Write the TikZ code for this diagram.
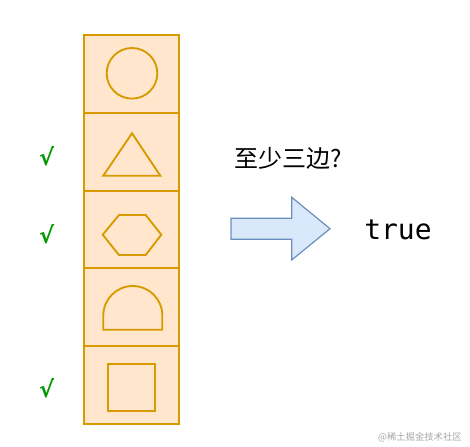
\documentclass[tikz,border=0pt]{standalone}
\usepackage{fontspec}
\newfontfamily\cjk{Noto Sans CJK SC}
\newfontfamily\tickfont{DejaVu Sans}
\setmonofont{DejaVu Sans Mono}
\usetikzlibrary{positioning}

\definecolor{boxfill}{HTML}{FFE6CC}
\definecolor{boxline}{HTML}{D79B00}
\definecolor{arrowfill}{HTML}{DAE8FC}
\definecolor{arrowline}{HTML}{6C8EBF}
\definecolor{tickgreen}{HTML}{009900}

\tikzset{
   cell/.style={draw=boxline,fill=boxfill,line width=1.5pt},
   shapeline/.style={draw=boxline,line width=1.4pt,line join=miter},
   tick/.style={text=tickgreen,font=\tickfont\bfseries\fontsize{17}{17}\selectfont,inner sep=0pt}
}

\begin{document}
\begin{tikzpicture}[x=0.75pt,y=-0.75pt]

   \useasboundingbox (0,0) rectangle (470,446);

   % column of cells
   \foreach \i in {0,1,...,4} {
      \draw[cell] (84,34.7+77.9*\i) rectangle ++(95,77.9);
   }

   % shapes in the cells
   \draw[shapeline] (132,73.3) circle (25.3);
   \draw[shapeline] (132,133.3) -- (160.3,175.7) -- (103.3,175.7) -- cycle;
   \draw[shapeline] (102.7,234.7) -- (119,215) -- (145.7,215) -- (161.3,234.7)
      -- (145.7,255) -- (119,255) -- cycle;
   \draw[shapeline] (103.3,329.7) -- (103.3,315.5) arc (180:360:29.5) -- (162.3,329.7) -- cycle;
   \draw[shapeline] (108.3,364.3) rectangle (155.3,411);

   % ticks
   \foreach \y/\name in {156.7/tickA,234.3/tickB,388.3/tickC} {
      \node[tick] (\name) at (46.7,\y) {√};
   }

   % question and answer
   \node[font=\cjk\fontsize{18}{18}\selectfont,anchor=west,inner sep=0pt] (ask) at (234,158.3) {至少三边?};
   \draw[draw=arrowline,fill=arrowfill,line width=0.9pt]
      (231,218.3) -- (291.7,218.3) -- (291.7,197.3) -- (330,228.7)
      -- (291.7,260) -- (291.7,239.3) -- (231,239.3) -- cycle;
   \node[font=\ttfamily\fontsize{21}{21}\selectfont,anchor=west,inner sep=0pt] (answer) at (364,230) {true};

   % watermark
   \node[font=\cjk\fontsize{7}{7}\selectfont,text=black!35,anchor=east,inner sep=0pt] (mark) at (462,437) {@稀土掘金技术社区};

\end{tikzpicture}
\end{document}
